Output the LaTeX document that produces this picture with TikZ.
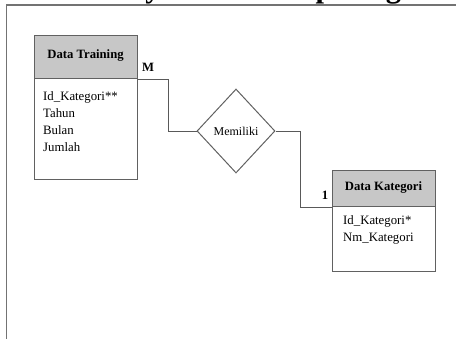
\documentclass[tikz,border=0pt]{standalone}
\usepackage{fontspec}
\setmainfont{Liberation Serif}
\usetikzlibrary{shapes.geometric}
\begin{document}
\begin{tikzpicture}[x=1pt,y=-1pt,
  frameline/.style={draw=black!55,line width=1.1pt},
  ent/.style={draw=black!62,line width=1.1pt,rectangle,inner sep=0pt},
  enthead/.style={ent,fill=black!22},
  conn/.style={draw=black!65,line width=0.9pt},
  txt/.style={font=\fontsize{12.8}{17.2}\selectfont,inner sep=0pt},
  btxt/.style={font=\fontsize{12.7}{15}\selectfont\bfseries,inner sep=0pt}]
\clip (0,0) rectangle (456,338);
\useasboundingbox (0,0) rectangle (456,338);
% cut-off title
\node[font=\fontsize{30.5}{34}\selectfont\bfseries,inner sep=0pt,anchor=base west] (title) at (79,-2.5) {Entity Relationship Diagram};
% frame
\draw[frameline] (6.5,340) -- (6.5,5) -- (460,5);
% Data Training
\node[enthead,minimum width=103pt,minimum height=43pt,anchor=north west] (dthead) at (34,35) {};
\node[ent,minimum width=103pt,minimum height=101pt,anchor=north west] (dtbody) at (34,78) {};
\node[btxt] (dtname) at (85.5,55) {Data Training};
\node[txt,align=left,anchor=north west] (dtattr) at (43,91) {Id\_Kategori**\\Tahun\\Bulan\\Jumlah};
% Data Kategori
\node[enthead,minimum width=103pt,minimum height=36pt,anchor=north west] (dkhead) at (332,170) {};
\node[ent,minimum width=103pt,minimum height=65pt,anchor=north west] (dkbody) at (332,206) {};
\node[btxt] (dkname) at (383.5,187) {Data Kategori};
\node[txt,align=left,anchor=north west] (dkattr) at (343,215) {Id\_Kategori*\\Nm\_Kategori};
% relationship
\node[diamond,draw=black!62,line width=1pt,minimum width=78pt,minimum height=84pt,inner sep=0pt,font=\fontsize{12}{14}\selectfont] (rel) at (236,131) {Memiliki};
% connectors
\draw[conn] (dthead.south east) -- ++(30,0) |- (rel.west);
\draw[conn] (rel.east) -- ++(25,0) |- (dkhead.south west);
% cardinalities
\node[btxt] (cm) at (148,67) {M};
\node[btxt] (c1) at (325,195) {1};
\end{tikzpicture}
\end{document}
